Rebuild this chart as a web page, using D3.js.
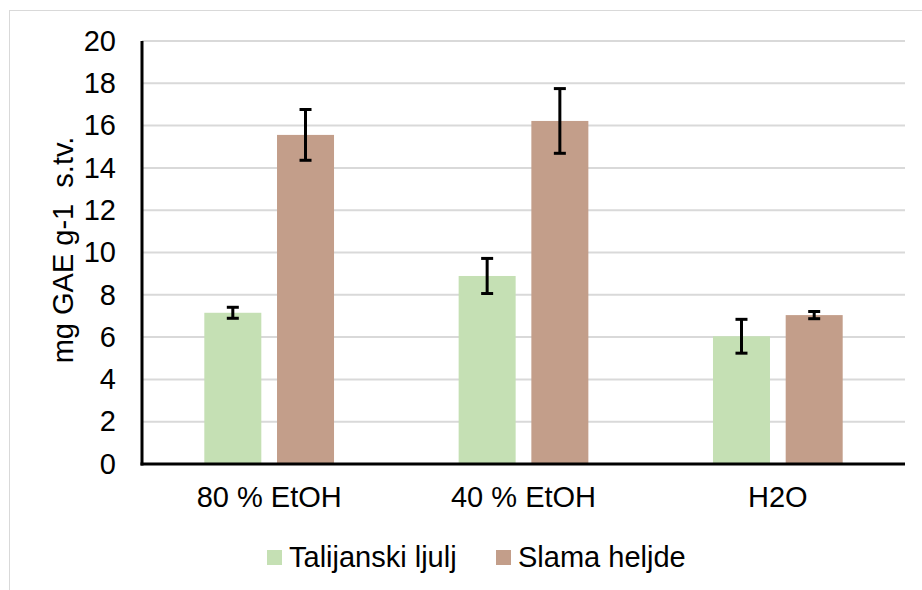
<!DOCTYPE html>
<html><head><meta charset="utf-8">
<script src="https://cdn.jsdelivr.net/npm/d3@7/dist/d3.min.js"></script>
<style>body{margin:0;background:#fff}svg{display:block}text{font-family:"Liberation Sans",Arial,sans-serif;fill:#000;white-space:pre}</style>
</head><body><svg id="c" width="922" height="590"></svg>
<script>
const categories = ["80 % EtOH", "40 % EtOH", "H2O"];
const seriesNames = ["Talijanski ljulj", "Slama heljde"];
const seriesColors = ["#c5e0b4", "#c39e8a"];
const taliValues = [7.15, 8.89, 6.04];
const taliErrors = [0.26, 0.83, 0.80];
const slamaValues = [15.56, 16.22, 7.04];
const slamaErrors = [1.20, 1.53, 0.17];
const yTicks = [0, 2, 4, 6, 8, 10, 12, 14, 16, 18, 20];
const yLabel = "mg GAE g-1  s.tv.";

const series = [
  {name: seriesNames[0], color: seriesColors[0], values: taliValues, errors: taliErrors},
  {name: seriesNames[1], color: seriesColors[1], values: slamaValues, errors: slamaErrors}
];

const svg = d3.select("#c");
const L = 142, R = 905, T = 41, B = 464;
const FS = 29;

// outer border
svg.append("rect").attr("x", 9.5).attr("y", 10.5).attr("width", 950).attr("height", 620)
  .attr("fill", "none").attr("stroke", "#d9d9d9").attr("stroke-width", 1);

const y = d3.scaleLinear().domain([0, 20]).range([B, T]);
const x0 = d3.scaleBand().domain(categories).range([L, R]).paddingInner(0).paddingOuter(0);
const x1 = d3.scaleBand().domain(seriesNames).range([0, x0.bandwidth()]).paddingInner(0.216).paddingOuter(0.857);

// gridlines
svg.append("g").selectAll("line").data(yTicks.filter(d => d > 0)).join("line")
  .attr("x1", L).attr("x2", R).attr("y1", d => y(d)).attr("y2", d => y(d))
  .attr("stroke", "#d9d9d9").attr("stroke-width", 2);

// bars
const groups = svg.append("g").selectAll("g").data(series).join("g");
groups.selectAll("rect").data(s => s.values.map((v, i) => ({v, c: categories[i], s}))).join("rect")
  .attr("x", d => x0(d.c) + x1(d.s.name)).attr("width", x1.bandwidth())
  .attr("y", d => y(d.v)).attr("height", d => y(0) - y(d.v))
  .attr("fill", d => d.s.color);

// error bars
const eb = svg.append("g").attr("stroke", "#000").attr("stroke-width", 3);
series.forEach(s => {
  s.values.forEach((v, i) => {
    const cx = x0(categories[i]) + x1(s.name) + x1.bandwidth() / 2;
    const hi = y(v + s.errors[i]), lo = y(v - s.errors[i]);
    eb.append("line").attr("x1", cx).attr("x2", cx).attr("y1", hi).attr("y2", lo);
    eb.append("line").attr("x1", cx - 6).attr("x2", cx + 6).attr("y1", hi).attr("y2", hi);
    eb.append("line").attr("x1", cx - 6).attr("x2", cx + 6).attr("y1", lo).attr("y2", lo);
  });
});

// axes
const yAxis = svg.append("g").attr("transform", `translate(${L},0)`)
  .call(d3.axisLeft(y).tickValues(yTicks).tickSize(0).tickPadding(26));
yAxis.select(".domain").remove();
yAxis.selectAll("text").attr("font-size", FS).attr("font-family", "Liberation Sans, Arial, sans-serif").attr("fill", "#000");

const xAxis = svg.append("g").attr("transform", `translate(0,${B})`)
  .call(d3.axisBottom(x0).tickSize(0).tickPadding(22));
xAxis.select(".domain").remove();
xAxis.selectAll("text").attr("font-size", FS).attr("font-family", "Liberation Sans, Arial, sans-serif").attr("fill", "#000");

svg.append("line").attr("x1", L).attr("x2", L).attr("y1", T).attr("y2", B + 1.5)
  .attr("stroke", "#000").attr("stroke-width", 3);
svg.append("line").attr("x1", L - 1.5).attr("x2", R).attr("y1", B).attr("y2", B)
  .attr("stroke", "#000").attr("stroke-width", 3);

// y label
svg.append("text").attr("transform", `translate(73,250) rotate(-90)`)
  .attr("text-anchor", "middle").attr("font-size", FS).text(yLabel);

// legend
const leg = svg.append("g");
const legX = [267, 496];
series.forEach((s, i) => {
  leg.append("rect").attr("x", legX[i]).attr("y", 550).attr("width", 15).attr("height", 15).attr("fill", s.color);
  leg.append("text").attr("x", legX[i] + 22).attr("y", 567).attr("font-size", FS).text(s.name);
});
</script></body></html>
